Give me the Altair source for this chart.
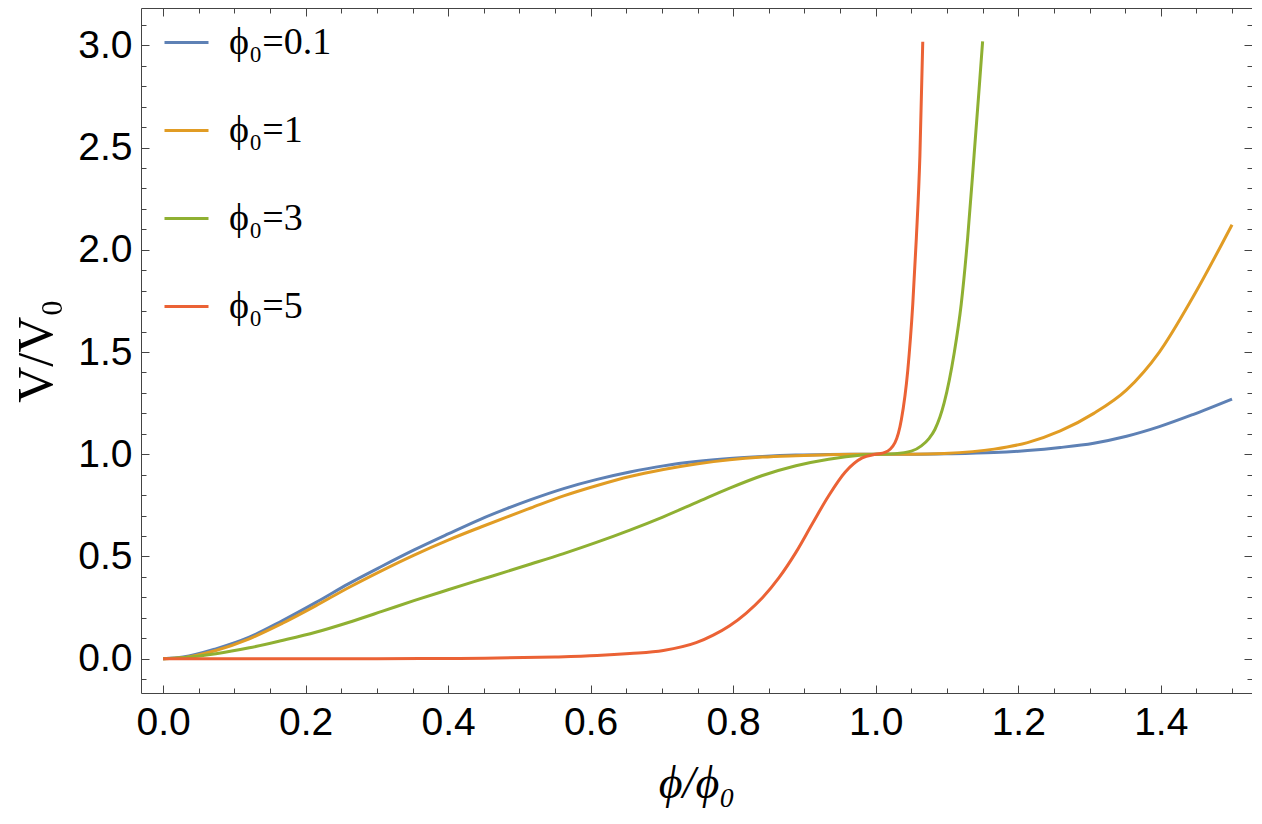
import altair as alt
import pandas as pd

# ---------------- data ----------------
series_names = ["ϕ₀=0.1", "ϕ₀=1", "ϕ₀=3", "ϕ₀=5"]
series_colors = ["#5E81B5", "#E19C24", "#8FB032", "#EB6235"]

x_a = [0.0, 0.028, 0.074, 0.121, 0.167, 0.214, 0.260, 0.307, 0.353, 0.400, 0.446, 0.483,
       0.516, 0.562, 0.609, 0.655, 0.702, 0.748, 0.795, 0.841, 0.888, 0.934, 0.981, 1.0,
       1.05, 1.10, 1.166, 1.213, 1.259, 1.306, 1.352, 1.398, 1.445, 1.50]
y_a = [0.0, 0.008, 0.048, 0.105, 0.185, 0.274, 0.366, 0.452, 0.533, 0.610, 0.683, 0.735,
       0.778, 0.832, 0.877, 0.913, 0.943, 0.964, 0.979, 0.989, 0.996, 0.999, 1.0, 1.0,
       1.0, 1.002, 1.008, 1.018, 1.033, 1.054, 1.088, 1.135, 1.194, 1.270]

x_b = [0.0, 0.028, 0.074, 0.121, 0.167, 0.214, 0.260, 0.307, 0.353, 0.400, 0.446, 0.483,
       0.516, 0.562, 0.609, 0.655, 0.702, 0.748, 0.795, 0.841, 0.888, 0.934, 0.981, 1.0,
       1.05, 1.096, 1.166, 1.213, 1.259, 1.306, 1.352, 1.398, 1.445, 1.50]
y_b = [0.0, 0.005, 0.040, 0.097, 0.172, 0.258, 0.347, 0.431, 0.508, 0.580, 0.644, 0.694,
       0.737, 0.796, 0.847, 0.891, 0.925, 0.952, 0.973, 0.986, 0.993, 0.998, 1.0, 1.0,
       1.0, 1.004, 1.025, 1.057, 1.114, 1.200, 1.315, 1.500, 1.768, 2.123]

x_c = [0.0, 0.028, 0.074, 0.121, 0.167, 0.214, 0.260, 0.307, 0.353, 0.400, 0.446, 0.483,
       0.516, 0.562, 0.609, 0.655, 0.702, 0.748, 0.795, 0.841, 0.888, 0.934, 0.981, 1.0,
       1.027, 1.050, 1.064, 1.075, 1.083, 1.096, 1.110, 1.120, 1.129, 1.138, 1.145, 1.150]
y_c = [0.0, 0.005, 0.024, 0.053, 0.089, 0.129, 0.177, 0.231, 0.285, 0.337, 0.387, 0.427,
       0.463, 0.514, 0.570, 0.629, 0.694, 0.763, 0.834, 0.896, 0.944, 0.976, 0.996, 1.0,
       1.003, 1.015, 1.041, 1.078, 1.121, 1.251, 1.493, 1.735, 2.058, 2.462, 2.784, 3.020]

x_d = [0.0, 0.1, 0.2, 0.3, 0.4, 0.469, 0.55, 0.609, 0.655, 0.702, 0.748, 0.772, 0.795,
       0.818, 0.841, 0.864, 0.888, 0.911, 0.934, 0.957, 0.981, 1.0, 1.013, 1.027, 1.036,
       1.045, 1.052, 1.057, 1.062, 1.066]
y_d = [0.0, 0.0, 0.0, 0.0, 0.001, 0.003, 0.008, 0.015, 0.025, 0.040, 0.078, 0.115, 0.161,
       0.222, 0.298, 0.395, 0.520, 0.660, 0.797, 0.912, 0.982, 1.0, 1.009, 1.057, 1.170,
       1.412, 1.735, 2.058, 2.462, 3.018]

x_major = [0.0, 0.2, 0.4, 0.6, 0.8, 1.0, 1.2, 1.4]
x_minor = [0.05, 0.1, 0.15, 0.25, 0.3, 0.35, 0.45, 0.5, 0.55, 0.65, 0.7, 0.75, 0.85, 0.9,
           0.95, 1.05, 1.1, 1.15, 1.25, 1.3, 1.35, 1.45, 1.5]
y_major = [0.0, 0.5, 1.0, 1.5, 2.0, 2.5, 3.0]
y_minor = [-0.1, 0.1, 0.2, 0.3, 0.4, 0.6, 0.7, 0.8, 0.9, 1.1, 1.2, 1.3, 1.4, 1.6, 1.7, 1.8,
           1.9, 2.1, 2.2, 2.3, 2.4, 2.6, 2.7, 2.8, 2.9, 3.1]

# ---------------- table ----------------
rows = []
for name, xs_, ys_ in zip(series_names, [x_a, x_b, x_c, x_d], [y_a, y_b, y_c, y_d]):
    for xv, yv in zip(xs_, ys_):
        rows.append({"x": xv, "y": yv, "series": name})
df = pd.DataFrame(rows)

W, H = 1111, 685
FRAME = "#444444"
xscale = alt.Scale(domain=[-0.031, 1.528], nice=False, zero=False)
yscale = alt.Scale(domain=[-0.168, 3.183], nice=False, zero=False)

lines = alt.Chart(df).mark_line(strokeWidth=3, interpolate="monotone").encode(
    x=alt.X("x:Q", scale=xscale, axis=alt.Axis(
        orient="bottom", values=x_major, format=".1f", ticks=False, domain=False, grid=False,
        labelFont="Liberation Sans", labelFontSize=39, labelColor="black", labelPadding=10,
        labelFlush=False, labelOverlap=False,
        title="ϕ/ϕ₀", titleFont="Liberation Serif", titleFontSize=46, titleFontWeight="normal",
        titleFontStyle="italic", titleColor="black", titlePadding=19)),
    y=alt.Y("y:Q", scale=yscale, axis=alt.Axis(
        orient="left", values=y_major, format=".1f", ticks=False, domain=False, grid=False,
        labelFont="Liberation Sans", labelFontSize=39, labelColor="black", labelPadding=9,
        labelFlush=False, labelOverlap=False,
        title="V/V₀", titleFont="Liberation Serif", titleFontSize=50, titleFontWeight="normal",
        titleColor="black", titlePadding=16)),
    color=alt.Color("series:N", scale=alt.Scale(domain=series_names, range=series_colors),
                    legend=alt.Legend(orient="none", legendX=22, legendY=11, title=None,
                                      symbolType="stroke", symbolSize=1936, symbolStrokeWidth=3,
                                      labelFont="Liberation Serif", labelFontSize=38,
                                      labelColor="black", labelOffset=19, rowPadding=45,
                                      padding=0)),
)


def tick_layer(xorient, yorient, xvals, yvals, size):
    return alt.Chart(df).mark_point(opacity=0).encode(
        x=alt.X("x:Q", scale=xscale, axis=alt.Axis(
            orient=xorient, offset=-H, values=xvals, tickSize=size, tickColor=FRAME,
            tickWidth=1, labels=False, domain=False, grid=False, title=None)),
        y=alt.Y("y:Q", scale=yscale, axis=alt.Axis(
            orient=yorient, offset=-W, values=yvals, tickSize=size, tickColor=FRAME,
            tickWidth=1, labels=False, domain=False, grid=False, title=None)),
    )


chart = alt.layer(
    lines,
    tick_layer("top", "right", x_major, y_major, 8),
    tick_layer("top", "right", x_minor, y_minor, 5),
    tick_layer("bottom", "left", x_major, y_major, 8),
    tick_layer("bottom", "left", x_minor, y_minor, 5),
).resolve_axis(x="independent", y="independent").properties(
    width=W, height=H,
    autosize=alt.AutoSizeParams(type="none"),
    padding={"left": 133, "top": 0, "right": 0, "bottom": 117},
    background="white",
).configure_view(stroke=FRAME, strokeWidth=1)

chart.save("out.html", embed_options={"renderer": "svg", "actions": False})
